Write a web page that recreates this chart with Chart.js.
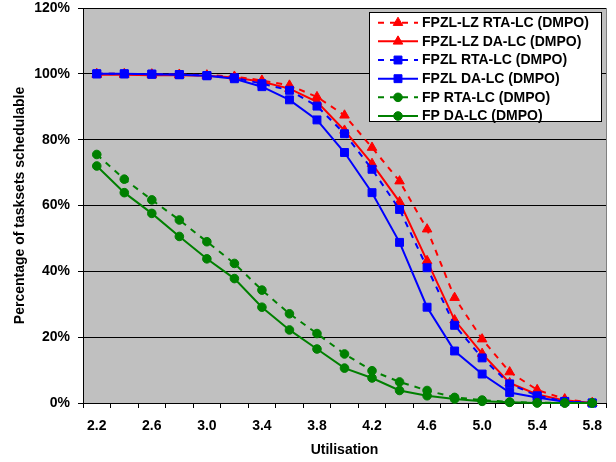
<!DOCTYPE html>
<html>
<head>
<meta charset="utf-8">
<title>Schedulability vs utilisation</title>
<script src="https://cdn.jsdelivr.net/npm/chart.js@4"></script>
<style>
    body { margin: 0; background: #fff; }
    #wrap { width: 616px; height: 462px; }
</style>
</head>
<body>
<div id="wrap"><canvas id="schedChart" width="616" height="462"></canvas></div>
<script>
// Utilisation steps (x categories)
const utilisation = ['2.2', '2.4', '2.6', '2.8', '3.0', '3.2', '3.4', '3.6', '3.8', '4.0',
                     '4.2', '4.4', '4.6', '4.8', '5.0', '5.2', '5.4', '5.6', '5.8'];

// Percentage of tasksets schedulable per test
const fpzlLzRta = [100, 100, 99.9, 99.8, 99.6, 99.2, 98.0, 96.5, 93.0, 87.4, 77.6, 67.4, 52.8, 32.0, 19.4, 9.4, 4.0, 1.2, 0];
const fpzlLzDa  = [99.7, 99.7, 99.6, 99.6, 99.4, 98.9, 97.6, 95.5, 91.5, 82.8, 72.7, 61.1, 43.2, 25.2, 15.0, 6.1, 2.6, 0.8, 0];
const fpzlRta   = [100, 100, 99.9, 99.8, 99.5, 98.8, 97.0, 95.0, 90.2, 81.8, 71.0, 58.8, 41.1, 23.6, 13.7, 5.8, 2.2, 0.5, 0];
const fpzlDa    = [100, 100, 99.9, 99.7, 99.4, 98.5, 96.1, 92.1, 86.0, 76.1, 63.9, 48.8, 29.1, 15.8, 8.8, 3.2, 1.7, 0.4, 0];
const fpRta     = [75.5, 68.0, 61.7, 55.6, 49.0, 42.4, 34.3, 27.1, 21.1, 14.9, 9.8, 6.4, 3.8, 1.7, 0.9, 0.3, 0.1, 0, 0];
const fpDa      = [72.0, 63.9, 57.6, 50.6, 43.8, 37.8, 29.1, 22.2, 16.4, 10.6, 7.6, 3.8, 2.2, 1.2, 0.5, 0.2, 0, 0, 0];

const yTicks = [0, 20, 40, 60, 80, 100, 120];

const FONT = "'Liberation Sans', Arial, sans-serif";
const RED = '#ff0000';
const BLUE = '#0000ff';
const GREEN = '#008000';

function series(label, data, color, pointStyle, radius, dashed, idx) {
    return {
        label: label,
        data: data,
        borderColor: color,
        backgroundColor: color,
        borderWidth: 2,
        borderDash: dashed ? [6, 6] : [],
        pointStyle: pointStyle,
        pointRadius: radius,
        pointBorderWidth: 1,
        pointBackgroundColor: color,
        pointBorderColor: color,
        tension: 0,
        fill: false,
        clip: false,
        order: 6 - idx   // later series drawn on top
    };
}

// grey plot area with a light frame on the right
const plotBackground = {
    id: 'plotBackground',
    beforeDraw(chart) {
        const { ctx, chartArea: a } = chart;
        ctx.save();
        ctx.fillStyle = '#c0c0c0';
        ctx.fillRect(a.left, a.top, a.right - a.left, a.bottom - a.top);
        ctx.strokeStyle = '#808080';
        ctx.lineWidth = 1;
        ctx.beginPath();
        ctx.moveTo(a.right + 0.5, a.top);
        ctx.lineTo(a.right + 0.5, a.bottom);
        ctx.stroke();
        ctx.restore();
    }
};

// boxed legend drawn inside the plot, top right
const boxLegend = {
    id: 'boxLegend',
    afterDraw(chart) {
        const ctx = chart.ctx;
        const x0 = 369, y0 = 12, w = 232, h = 109;
        ctx.save();
        ctx.fillStyle = '#fff';
        ctx.fillRect(x0, y0, w, h);
        ctx.strokeStyle = '#000';
        ctx.lineWidth = 1;
        ctx.strokeRect(x0 + 0.5, y0 + 0.5, w, h);
        chart.data.datasets.forEach((ds, i) => {
            const y = 22.7 + i * 18.66;
            ctx.strokeStyle = ds.borderColor;
            ctx.lineWidth = 2;
            ctx.setLineDash(ds.borderDash);
            ctx.beginPath();
            ctx.moveTo(378, y);
            ctx.lineTo(418, y);
            ctx.stroke();
            ctx.setLineDash([]);
            ctx.fillStyle = ds.borderColor;
            ctx.lineWidth = 1;
            Chart.helpers.drawPoint(ctx, {
                pointStyle: ds.pointStyle,
                radius: ds.pointRadius,
                borderWidth: 1
            }, 398, y);
            ctx.fillStyle = '#000';
            ctx.font = 'bold 14px ' + FONT;
            ctx.textAlign = 'left';
            ctx.textBaseline = 'middle';
            ctx.fillText(ds.label, 422, y + 0.5);
        });
        ctx.restore();
    }
};

const ctx = document.getElementById('schedChart').getContext('2d');
const chart = new Chart(ctx, {
    type: 'line',
    data: {
        labels: utilisation,
        datasets: [
            series('FPZL-LZ RTA-LC (DMPO)', fpzlLzRta, RED, 'triangle', 5.5, true, 0),
            series('FPZL-LZ DA-LC (DMPO)', fpzlLzDa, RED, 'triangle', 5.5, false, 1),
            series('FPZL RTA-LC (DMPO)', fpzlRta, BLUE, 'rect', 5.6, true, 2),
            series('FPZL DA-LC (DMPO)', fpzlDa, BLUE, 'rect', 5.6, false, 3),
            series('FP RTA-LC (DMPO)', fpRta, GREEN, 'circle', 4.3, true, 4),
            series('FP DA-LC (DMPO)', fpDa, GREEN, 'circle', 4.3, false, 5)
        ]
    },
    options: {
        responsive: false,
        animation: false,
        devicePixelRatio: 1,
        layout: { padding: { top: 8, right: 10, left: 0, bottom: 0 } },
        plugins: {
            legend: { display: false },
            tooltip: { enabled: false }
        },
        scales: {
            x: {
                type: 'category',
                offset: true,
                afterFit(scale) {
                    scale.height = 59;
                    scale.paddingLeft = 0;
                    scale.paddingRight = 0;
                },
                border: { color: '#000', width: 1 },
                grid: {
                    offset: true,
                    drawOnChartArea: false,
                    drawTicks: true,
                    tickLength: 5,
                    color: '#000'
                },
                ticks: {
                    autoSkip: false,
                    maxRotation: 0,
                    padding: 10,
                    color: '#000',
                    font: { family: FONT, size: 14, weight: 'bold' },
                    callback(value, index) {
                        return index % 2 === 0 ? this.getLabelForValue(value) : '';
                    }
                },
                title: {
                    display: true,
                    text: 'Utilisation',
                    color: '#000',
                    padding: { top: 0, bottom: 3 },
                    font: { family: FONT, size: 14, weight: 'bold' }
                }
            },
            y: {
                min: yTicks[0],
                max: yTicks[yTicks.length - 1],
                afterFit(scale) {
                    scale.width = 83;
                    scale.paddingTop = 0;
                    scale.paddingBottom = 0;
                },
                afterBuildTicks(scale) {
                    scale.ticks = yTicks.map(v => ({ value: v }));
                },
                border: { color: '#000', width: 1 },
                grid: {
                    color: '#000',
                    lineWidth: 1,
                    drawTicks: true,
                    tickLength: 5
                },
                ticks: {
                    padding: 8,
                    color: '#000',
                    font: { family: FONT, size: 14, weight: 'bold' },
                    callback: v => v + '%'
                },
                title: {
                    display: true,
                    text: 'Percentage of tasksets schedulable',
                    color: '#000',
                    padding: { top: 12, bottom: 0 },
                    font: { family: FONT, size: 14, weight: 'bold' }
                }
            }
        }
    },
    plugins: [plotBackground, boxLegend]
});
</script>
</body>
</html>
